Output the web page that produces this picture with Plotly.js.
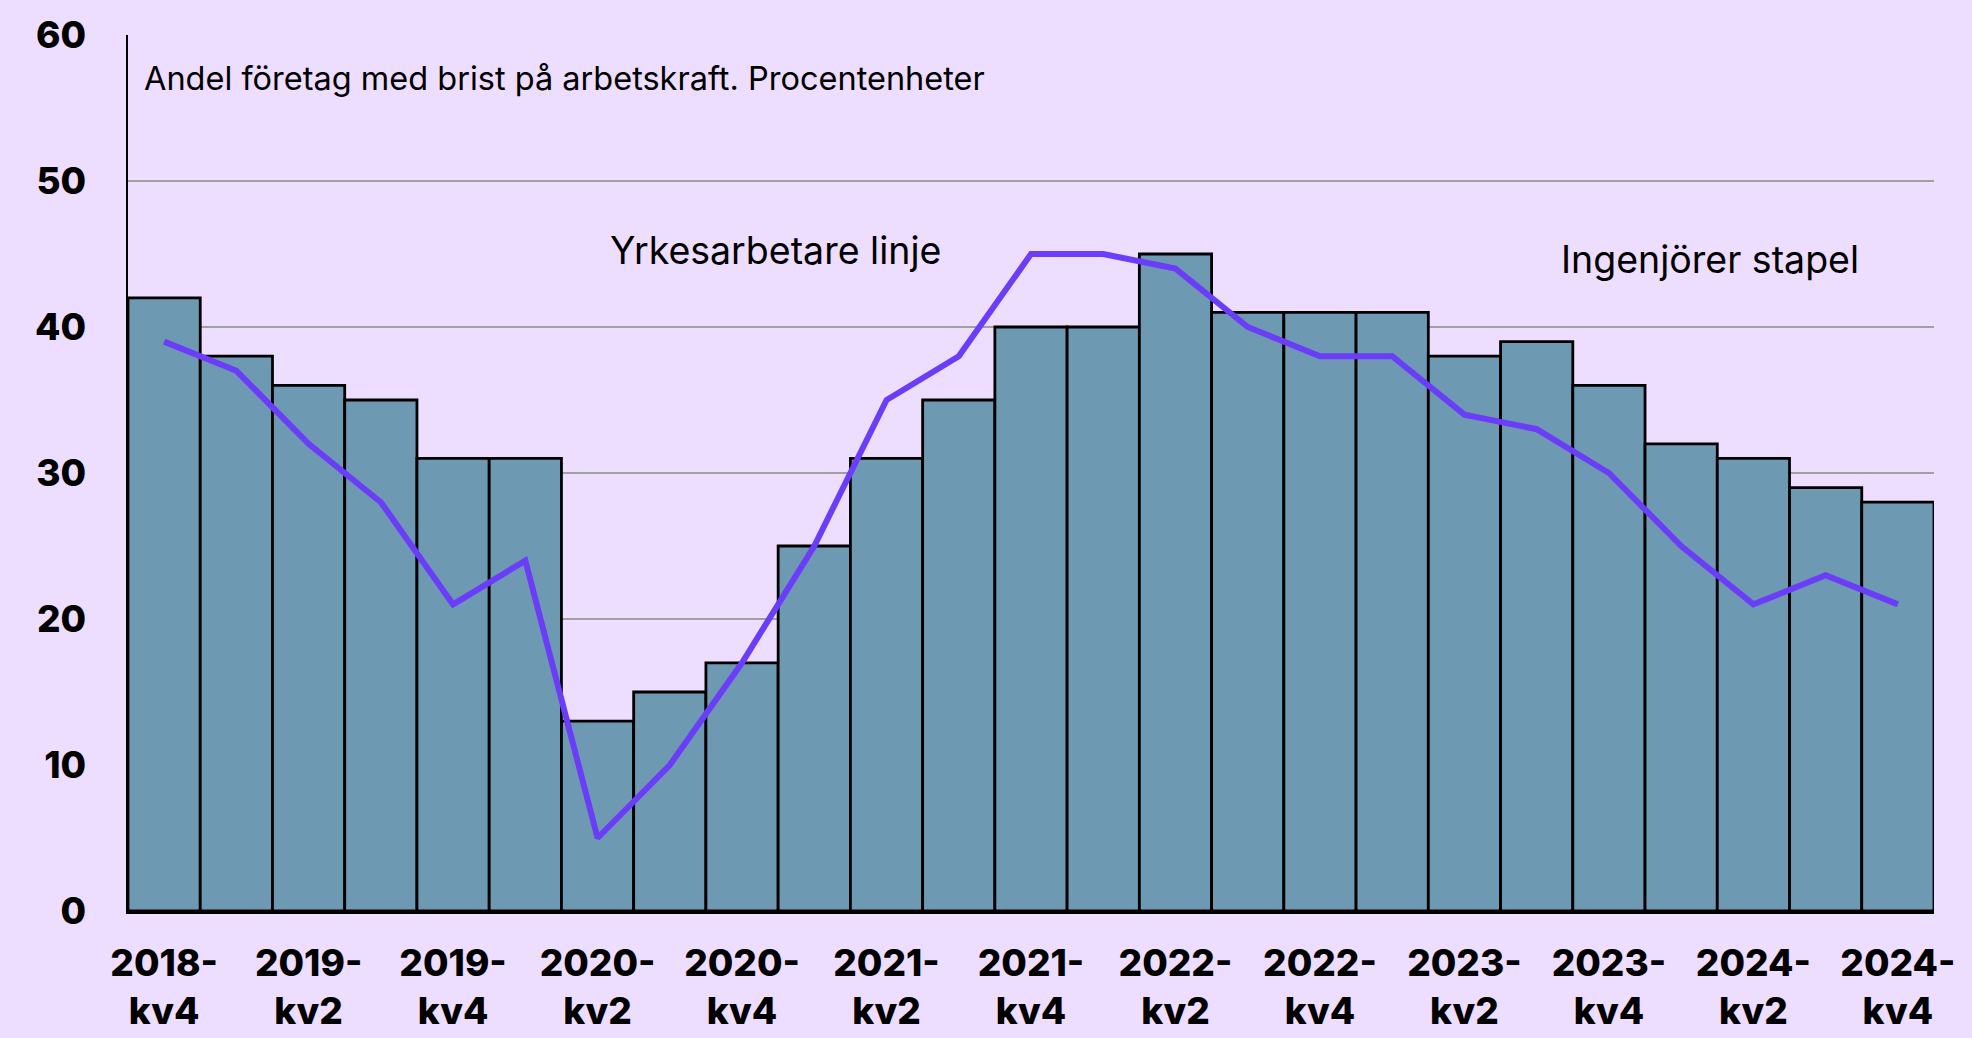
<!DOCTYPE html>
<html>
<head>
<meta charset="utf-8">
<script src="https://cdn.plot.ly/plotly-3.0.1.min.js"></script>
<style>html,body{margin:0;padding:0;background:#EDDDFE;}</style>
</head>
<body>
<div id="chart" style="width:1972px;height:1038px;"></div>
<script>
const categories = ["2018-kv4","2019-kv1","2019-kv2","2019-kv3","2019-kv4","2020-kv1","2020-kv2","2020-kv3","2020-kv4","2021-kv1","2021-kv2","2021-kv3","2021-kv4","2022-kv1","2022-kv2","2022-kv3","2022-kv4","2023-kv1","2023-kv2","2023-kv3","2023-kv4","2024-kv1","2024-kv2","2024-kv3","2024-kv4"];
const ingenjorer = [42,38,36,35,31,31,13,15,17,25,31,35,40,40,45,41,41,41,38,39,36,32,31,29,28];
const yrkesarbetare = [39,37,32,28,21,24,5,10,17,25,35,38,45,45,44,40,38,38,34,33,30,25,21,23,21];
const tickCategories = categories.filter((c, i) => i % 2 === 0);
const tickLabels = tickCategories.map(c => c.replace("-", "-<br>"));
const yTicks = [0,10,20,30,40,50,60];

const W = 1972, H = 1038;
const L = 128, R = 38, T = 35, B = 127;
const px = x => (x - L) / (W - L - R);
const py = y => 1 - (y - T) / (H - T - B);

const tickFont = {size:37, family:"Inter, sans-serif", weight:800, color:"#000"};

const data = [
  {type:"bar", x:categories, y:ingenjorer, name:"Ingenjörer",
   marker:{color:"#6D9AB2", line:{color:"#000000", width:2.8}}, hoverinfo:"x+y"},
  {type:"scatter", mode:"lines", x:categories, y:yrkesarbetare, name:"Yrkesarbetare",
   line:{color:"#6B3DF8", width:6}}
];

const layout = {
  width:W, height:H,
  paper_bgcolor:"#EDDDFE", plot_bgcolor:"#EDDDFE",
  margin:{l:L, r:R, t:T, b:B, pad:0},
  showlegend:false,
  bargap:0,
  font:{family:"Inter, 'Noto Sans', sans-serif", color:"#000"},
  xaxis:{type:"category", tickvals:tickCategories, ticktext:tickLabels,
    tickfont:tickFont,
    showgrid:false, showline:true, linecolor:"#000", linewidth:2.5,
    ticks:"", tickangle:0, ticklabelstandoff:18, range:[-0.5, categories.length-0.5]},
  yaxis:{range:[0,60], tickvals:yTicks, ticktext:yTicks.map(String),
    tickfont:tickFont,
    showgrid:true, gridcolor:"#a0a0a0", gridwidth:1.2,
    showline:true, linecolor:"#000", linewidth:2.5, ticks:"", ticklabelstandoff:32,
    zeroline:false},
  annotations:[
    {xref:"paper", yref:"paper", x:px(142), y:py(78), xanchor:"left", yanchor:"middle",
     text:"Andel företag med brist på arbetskraft. Procentenheter", showarrow:false,
     font:{size:32.5, color:"#000"}},
    {xref:"paper", yref:"paper", x:px(775), y:py(250), xanchor:"center", yanchor:"middle",
     text:"Yrkesarbetare linje", showarrow:false, font:{size:37.5, color:"#000"}},
    {xref:"paper", yref:"paper", x:px(1710), y:py(259), xanchor:"center", yanchor:"middle",
     text:"Ingenjörer stapel", showarrow:false, font:{size:37.5, color:"#000"}}
  ]
};

Plotly.newPlot("chart", data, layout, {displayModeBar:false, staticPlot:true});
</script>
</body>
</html>
